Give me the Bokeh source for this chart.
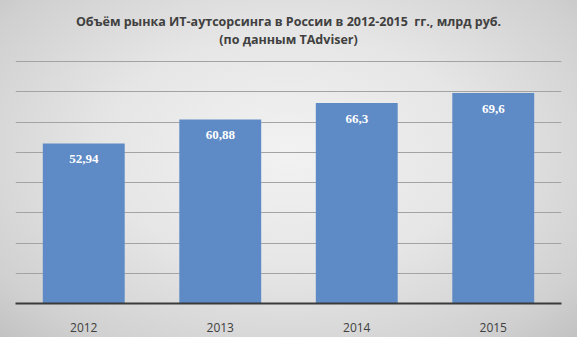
from bokeh.plotting import figure
from bokeh.models import ColumnDataSource, LabelSet, FixedTicker, FactorRange, Range1d, Label
from bokeh.embed import file_html
from bokeh.resources import INLINE

years = ["2012", "2013", "2014", "2015"]
values = [52.94, 60.88, 66.3, 69.6]
labels = [f"{v:g}".replace(".", ",") for v in values]
grid_ticks = [0, 10, 20, 30, 40, 50, 60, 70, 80]
title_line1 = "Объём рынка ИТ-аутсорсинга в России в 2012-2015\u00a0 гг., млрд руб."
title_line2 = "(по данным TAdviser)"

src = ColumnDataSource(dict(x=years, top=values, lab=labels))

# frame spans the full height above the axis; value axis 0..80 occupies the lower part
p = figure(width=577, height=337, x_range=FactorRange(factors=years), y_range=Range1d(0, 100.2),
           output_backend="svg", toolbar_location=None,
           min_border_left=15, min_border_right=16, min_border_top=0, min_border_bottom=34)
p.title = None

p.styles = {"background": "radial-gradient(ellipse at 50% 45%, #f2f2f2 0%, #e6e6e6 45%, #d0d0d0 85%, #c2c2c2 100%)"}
p.background_fill_color = None
p.border_fill_color = None
p.outline_line_color = None

for txt, yy in [(title_line1, 93.2), (title_line2, 87.3)]:
    p.add_layout(Label(x=2.0, y=yy, text=txt, text_align="center", text_baseline="middle",
                       text_font="Open Sans", text_font_size="12.5px", text_font_style="bold",
                       text_color="#404040"))

p.vbar(x="x", top="top", width=0.6, source=src, fill_color="#5e8ac5", line_color=None)

p.yaxis.visible = False
p.ygrid.ticker = FixedTicker(ticks=grid_ticks)
p.ygrid.grid_line_color = "#a3a3a3"
p.ygrid.grid_line_width = 1
p.xgrid.grid_line_color = None
p.ygrid.level = "underlay"

ax = p.xaxis[0]
ax.axis_line_color = "#3a3a3a"
ax.axis_line_width = 2
ax.major_tick_line_color = None
ax.minor_tick_line_color = None
ax.major_label_standoff = 13
ax.major_label_text_font = "Open Sans"
ax.major_label_text_font_size = "12px"
ax.major_label_text_color = "#404040"

ls = LabelSet(x="x", y="top", text="lab", source=src, y_offset=-16, text_align="center",
              text_baseline="middle", text_color="white", text_font="Open Sans",
              text_font_size="13px", text_font_style="bold")
p.add_layout(ls)

open("out.html", "w").write(file_html(p, INLINE))
